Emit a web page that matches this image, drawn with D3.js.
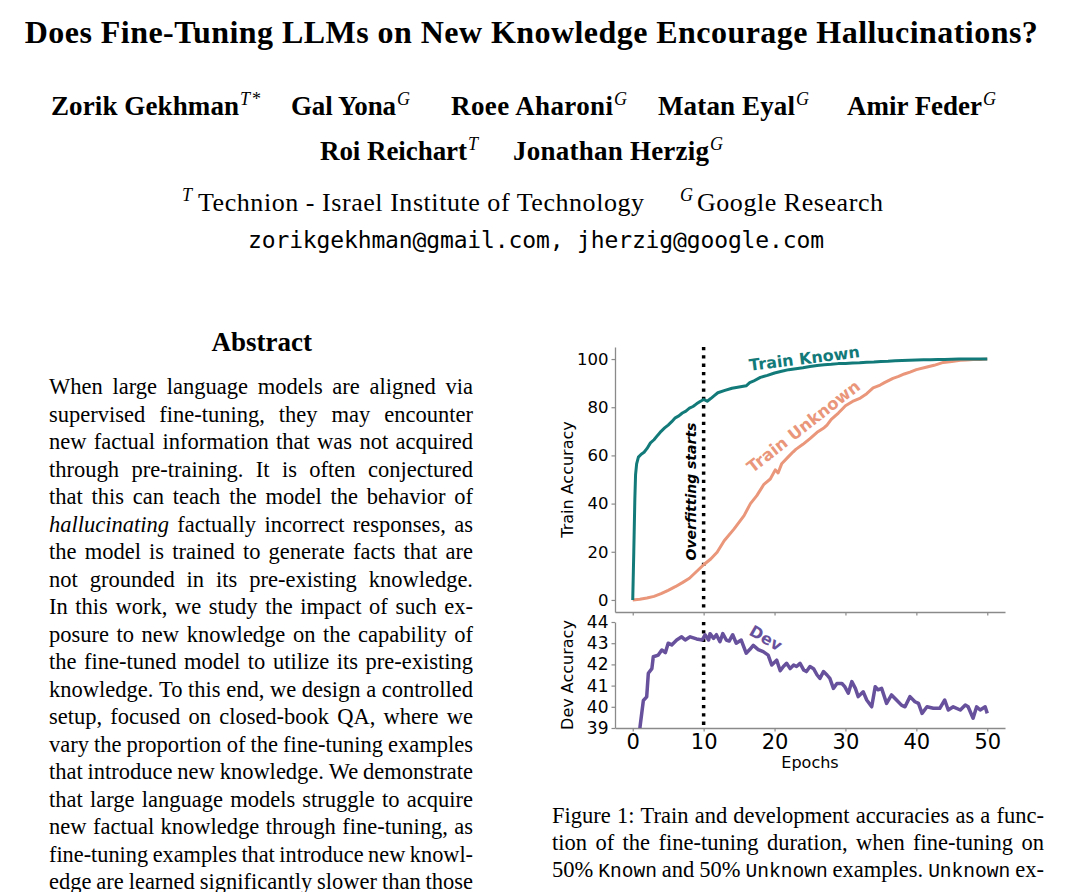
<!DOCTYPE html>
<html><head><meta charset="utf-8">
<script src="https://cdn.jsdelivr.net/npm/d3@7"></script>
<style>
html,body{margin:0;padding:0;background:#fff;}
body{width:1070px;height:892px;overflow:hidden;}
svg{display:block;}
</style></head>
<body>
<script>
// ---------------- DATA ----------------
const knownEpochs = [0,0.15,0.3,0.4,0.55,0.8,1.2,1.6,2.0,2.5,3.0,3.5,4.0,4.5,5.0,5.5,6.0,6.5,7.0,7.5,8.0,8.5,9.0,9.5,10.0,10.5,11.0,11.5,12,13,14,15,16,16.5,17,18,19,20,21,22,23,24,25,26,27,28,29,30,31,32,33,34,35,36,37,38,39,40,41,42,43,44,45,46,47,48,49,50];
const knownAcc    = [0,20,42,52,56.5,59.3,60.5,61.3,62.8,65.2,66.5,68.3,70,71.4,72.6,74,75.6,76.4,77.6,78.4,79.6,80.3,81.4,82.4,83.2,82.5,83.6,84.8,86,87,87.9,88.4,88.9,90.2,90.8,92.4,93.2,94.2,94.9,95.6,96,96.4,96.9,97.3,97.6,97.8,98.1,98.2,98.4,98.5,98.7,98.8,99,99.1,99.3,99.4,99.5,99.6,99.7,99.7,99.8,99.8,99.9,100,100,100,100,100];

const unknownEpochs = [0,1,2,3,4,5,6,7,8,9,10,11,11.9,12.9,14.3,15.7,16.6,17.5,18.5,19.4,20.1,20.5,21,22,22.6,23,24,25,26,27,27.4,28,29,29.7,30,31,32.1,33,33.9,34.9,35.5,36.7,37.5,38.3,39.1,40,41.5,42.5,43.8,45,46.2,47,48,49,50];
const unknownAcc    = [0,0.3,0.8,1.5,2.6,4,5.5,7.2,9,11.8,14.6,17,19.8,24.6,29.5,35,40,43.3,48,50.2,54,52.7,56.5,59.6,61.4,62.5,64.6,67,69.6,71.5,72.6,75,77.6,79.7,80.6,82.4,83.8,85.6,88,89.2,90.2,92,92.8,93.8,94.6,95.6,96.7,97.4,98.6,99,99.5,99.6,99.8,99.8,100];

const devEpochs = [0.9,1.03,1.5,1.97,2.2,2.7,2.9,3.6,4.1,4.6,5.0,5.5,6.2,6.9,7.4,8.1,9.0,9.8,10.2,10.7,10.9,11.4,11.8,12.3,12.7,13.2,13.6,14.1,14.6,15.3,16.0,16.5,17.0,17.7,18.4,19.1,19.6,20.3,20.8,21.25,21.7,22.2,22.7,23.1,23.6,24.1,24.5,25,25.5,26,26.4,26.9,27.4,27.8,28.3,28.8,29.5,29.9,30.4,30.9,31.4,31.8,32.5,33.0,33.7,34.2,34.6,35.1,35.8,36.5,37.2,37.9,38.4,39.1,39.8,40.3,40.8,41.5,42.4,43.3,44.0,44.5,45.2,46.2,46.9,47.3,48.0,48.5,49.0,49.7,50.0];
const devAcc    = [38.3,39.06,40.3,40.47,41.58,41.8,42.36,42.44,42.68,42.55,43.0,42.92,43.15,43.3,43.15,43.3,43.2,43.15,43.4,43.15,43.45,43.23,43.4,43.07,43.45,43.15,43.1,43.4,43.0,43.15,42.53,42.7,42.9,42.7,42.6,42.44,41.97,42.2,41.7,41.9,42.05,41.8,41.97,41.9,42.05,41.74,41.66,41.9,41.8,41.5,41.34,41.66,41.5,41.34,40.87,41.1,41.1,40.95,40.64,41.19,40.87,40.48,40.71,40.32,40.0,40.95,40.8,40.87,40.16,40.56,40.32,40.08,40.0,40.48,40.24,40.16,39.69,40.0,39.93,39.93,40.32,39.85,40.0,39.85,40.08,40.0,39.46,40.0,39.85,40.0,39.69];

const xTicks = [0,10,20,30,40,50];
const trainTicks = [0,20,40,60,80,100];
const devTicks = [39,40,41,42,43,44];
const overfitEpoch = 10;

// ---------------- TEXT CONTENT ----------------
const titleText = "Does Fine-Tuning LLMs on New Knowledge Encourage Hallucinations?";
const authorsRow1 = [["Zorik Gekhman","T","*",51,188],["Gal Yona","G","",291,105],["Roee Aharoni","G","",451,162],["Matan Eyal","G","",658,137],["Amir Feder","G","",847,135]];
const authorsRow2 = [["Roi Reichart","T","",320,147],["Jonathan Herzig","G","",513,196]];
const emailText = "zorikgekhman@gmail.com, jherzig@google.com";
const abstractLines = [
 "When large language models are aligned via",
 "supervised fine-tuning, they may encounter",
 "new factual information that was not acquired",
 "through pre-training.  It is often conjectured",
 "that this can teach the model the behavior of",
 "_hallucinating_ factually incorrect responses, as",
 "the model is trained to generate facts that are",
 "not grounded in its pre-existing knowledge.",
 "In this work, we study the impact of such ex-",
 "posure to new knowledge on the capability of",
 "the fine-tuned model to utilize its pre-existing",
 "knowledge. To this end, we design a controlled",
 "setup, focused on closed-book QA, where we",
 "vary the proportion of the fine-tuning examples",
 "that introduce new knowledge. We demonstrate",
 "that large language models struggle to acquire",
 "new factual knowledge through fine-tuning, as",
 "fine-tuning examples that introduce new knowl-",
 "edge are learned significantly slower than those"
];
const captionLines = [
 "Figure 1: Train and development accuracies as a func-",
 "tion of the fine-tuning duration, when fine-tuning on",
 "50% `Known` and 50% `Unknown` examples. `Unknown` ex-"
];

// ---------------- DRAW ----------------
const SERIF = "'Liberation Serif','Times New Roman',serif";
const SANS = "'DejaVu Sans',sans-serif";
const MONO_EMAIL = "'DejaVu Sans Mono',monospace";
const MONO_TT = "'Liberation Mono','Courier New',monospace";

const svg = d3.select("body").append("svg").attr("width",1070).attr("height",892);

// Title
svg.append("text").attr("x",24.8).attr("y",43.3).attr("font-family",SERIF).attr("font-weight","bold")
  .attr("font-size",32).attr("textLength",1013).attr("lengthAdjust","spacing").text(titleText);

function author(a, y){
  const [name, sup, star, x, w] = a;
  svg.append("text").attr("x",x).attr("y",y).attr("font-family",SERIF).attr("font-weight","bold")
    .attr("font-size",27).attr("textLength",w).attr("lengthAdjust","spacing").text(name);
  const t = svg.append("text").attr("x",x+w+1).attr("y",y-10).attr("font-family",SERIF).attr("font-size",18);
  t.append("tspan").attr("font-style","italic").text(sup);
  if(star) t.append("tspan").attr("dx",2).text(star);
}
authorsRow1.forEach(a=>author(a,115));
authorsRow2.forEach(a=>author(a,160));

// Affiliations
function affil(sup, supX, txt, x, w){
  svg.append("text").attr("x",supX).attr("y",200.5).attr("font-family",SERIF).attr("font-style","italic").attr("font-size",18).text(sup);
  svg.append("text").attr("x",x).attr("y",210.7).attr("font-family",SERIF).attr("font-size",26)
    .attr("textLength",w).attr("lengthAdjust","spacing").text(txt);
}
affil("T",182,"Technion - Israel Institute of Technology",198,446);
affil("G",680,"Google Research",697,186);

// Email
svg.append("text").attr("x",248).attr("y",248.3).attr("font-family",MONO_EMAIL).attr("font-size",23)
  .attr("textLength",576).attr("lengthAdjust","spacing").text(emailText);

// Abstract heading
svg.append("text").attr("x",261.7).attr("y",351).attr("text-anchor","middle").attr("font-family",SERIF)
  .attr("font-weight","bold").attr("font-size",27).text("Abstract");

// Justified lines
function justify(line, x0, x1, y, fs){
  const words = line.split(/\s+/);
  const make = (size)=>words.map(w=>{
    let fam = SERIF, style="normal", txt=w, s=size;
    if(/^_.*_$/.test(w)){ style="italic"; txt=w.slice(1,-1); }
    if(/^`.*`$/.test(w)){ fam=MONO_TT; txt=w.slice(1,-1); s=size*0.87; }
    const t = svg.append("text").attr("y",y).attr("font-family",fam).attr("font-style",style)
      .attr("font-size",s).text(txt);
    return {t, w:t.node().getComputedTextLength()};
  });
  let items = make(fs);
  let total = d3.sum(items,d=>d.w);
  const minGap = fs*0.2;
  if((x1-x0-total)/(items.length-1) < minGap){
    const need = (x1-x0-minGap*(items.length-1))/total;
    items.forEach(it=>it.t.remove());
    items = make(fs*need);
    total = d3.sum(items,d=>d.w);
  }
  const gap = (x1-x0-total)/(items.length-1);
  let x = x0;
  items.forEach(it=>{ it.t.attr("x",x); x += it.w+gap; });
}
abstractLines.forEach((l,i)=>justify(l,49,473,394+27.5*i,22.5));
captionLines.forEach((l,i)=>justify(l,552,1044,823+27*i,22.5));

// ---------------- CHART ----------------
const x = d3.scaleLinear().domain([-2.5,52.5]).range([615,1005]);
const yTop = d3.scaleLinear().domain([-5,105]).range([612,347]);
const yDev = d3.scaleLinear().domain([39,44]).range([728,622]);

const teal = "#137a7a", salmon = "#e9967a", purple = "#67509c", spine = "#8a8a8a";

function styleAxis(g, fs){
  g.select(".domain").attr("stroke",spine).attr("stroke-width",1.3);
  g.selectAll(".tick line").attr("stroke",spine).attr("stroke-width",1.2);
  g.selectAll(".tick text").attr("font-family",SANS).attr("font-size",fs).attr("fill","#000");
}

// top axes
const gTopX = svg.append("g").attr("transform","translate(0,612)")
  .call(d3.axisBottom(x).tickValues(xTicks).tickSize(3.5).tickSizeOuter(0).tickFormat(""));
styleAxis(gTopX,19);
const gTopY = svg.append("g").attr("transform","translate(615,0)")
  .call(d3.axisLeft(yTop).tickValues(trainTicks).tickSize(3.5).tickSizeOuter(0).tickPadding(3).tickFormat(d3.format("d")));
styleAxis(gTopY,16.5);

// bottom axes
const gDevX = svg.append("g").attr("transform","translate(0,728)")
  .call(d3.axisBottom(x).tickValues(xTicks).tickSize(3.5).tickSizeOuter(0).tickPadding(3).tickFormat(d3.format("d")));
styleAxis(gDevX,21);
const gDevY = svg.append("g").attr("transform","translate(615,0)")
  .call(d3.axisLeft(yDev).tickValues(devTicks).tickSize(3.5).tickSizeOuter(0).tickPadding(3).tickFormat(d3.format("d")));
styleAxis(gDevY,17);

// clip paths
const defs = svg.append("defs");
defs.append("clipPath").attr("id","clipTop").append("rect").attr("x",615).attr("y",347).attr("width",390).attr("height",265);
defs.append("clipPath").attr("id","clipDev").append("rect").attr("x",615).attr("y",622).attr("width",390).attr("height",106);

const lineTop = d3.line().x(d=>x(d[0])).y(d=>yTop(d[1]));
const lineDev = d3.line().x(d=>x(d[0])).y(d=>yDev(d[1]));

// dotted overfitting line
svg.append("line").attr("x1",x(overfitEpoch)).attr("x2",x(overfitEpoch)).attr("y1",yTop(105)).attr("y2",yTop(-5))
  .attr("stroke","#000").attr("stroke-width",3.5).attr("stroke-dasharray","3.3,5");
svg.append("line").attr("x1",x(overfitEpoch)).attr("x2",x(overfitEpoch)).attr("y1",yDev(44)).attr("y2",yDev(39))
  .attr("stroke","#000").attr("stroke-width",3.5).attr("stroke-dasharray","3.3,5");

const gTop = svg.append("g").attr("clip-path","url(#clipTop)");
gTop.append("path").datum(d3.zip(unknownEpochs,unknownAcc)).attr("d",lineTop)
  .attr("fill","none").attr("stroke",salmon).attr("stroke-width",3).attr("stroke-linejoin","round");
gTop.append("path").datum(d3.zip(knownEpochs,knownAcc)).attr("d",lineTop)
  .attr("fill","none").attr("stroke",teal).attr("stroke-width",3).attr("stroke-linejoin","round");

const gDev = svg.append("g").attr("clip-path","url(#clipDev)");
gDev.append("path").datum(d3.zip(devEpochs,devAcc)).attr("d",lineDev)
  .attr("fill","none").attr("stroke",purple).attr("stroke-width",3.5).attr("stroke-linejoin","round");

// annotations
function label(txt, cx, cy, rot, fs, color, italic){
  svg.append("text").attr("transform",`translate(${cx},${cy}) rotate(${rot})`).attr("text-anchor","middle")
    .attr("font-family",SANS).attr("font-weight","bold").attr("font-style",italic?"italic":"normal")
    .attr("font-size",fs).attr("fill",color).text(txt);
}
label("Train Known",805,364,-7,16,teal);
label("Train Unknown",807,431,-38,16.5,salmon);
label("Overfitting starts",696,491.5,-90,14,"#000",true);
label("Dev",763,643,30,16,purple);

// axis titles
function axisTitle(txt, cx, cy, rot){
  svg.append("text").attr("transform",`translate(${cx},${cy}) rotate(${rot})`).attr("text-anchor","middle")
    .attr("font-family",SANS).attr("font-size",16).attr("fill","#000").text(txt);
}
axisTitle("Train Accuracy",573,479.5,-90);
axisTitle("Dev Accuracy",573,675,-90);
axisTitle("Epochs",810,767.7,0);
</script>
</body></html>
